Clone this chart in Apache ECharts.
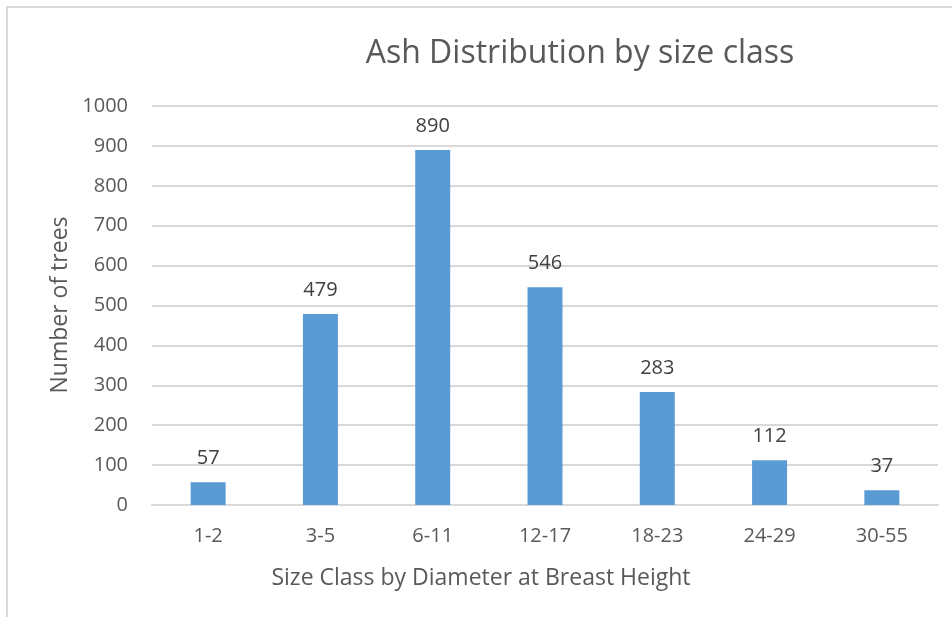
<!DOCTYPE html>
<html><head><meta charset="utf-8">
<script src="https://cdn.jsdelivr.net/npm/echarts@6/dist/echarts.min.js"></script>
<style>html,body{margin:0;padding:0;background:#fff}#c{width:952px;height:617px}</style>
</head><body><div id="c"></div>
<script>
const categories = ['1-2','3-5','6-11','12-17','18-23','24-29','30-55'];
const values = [57,479,890,546,283,112,37];
const chartTitle = 'Ash Distribution by size class';
const xName = 'Size Class by Diameter at Breast Height';
const yName = 'Number of trees';
const font = '"Open Sans", "Liberation Sans", sans-serif';
const chart = echarts.init(document.getElementById('c'));
chart.setOption({
  animation: false,
  backgroundColor: '#fff',
  title: { text: chartTitle, left: 575, top: 33, textAlign: 'center',
    textStyle: { fontFamily: font, fontSize: 32, fontWeight: 'normal', color: '#595959' } },
  grid: { left: 152, right: 14, top: 106, bottom: 112, containLabel: false },
  xAxis: { type: 'category', data: categories,
    axisLine: { lineStyle: { color: '#d9d9d9', width: 2 } }, axisTick: { show: false },
    axisLabel: { color: '#595959', fontSize: 20, fontFamily: font, margin: 21 } },
  yAxis: { type: 'value', min: 0, max: 1000, interval: 100,
    axisLine: { show: false }, axisTick: { show: false },
    splitLine: { lineStyle: { color: '#d9d9d9', width: 2 } },
    axisLabel: { color: '#595959', fontSize: 20, fontFamily: font, margin: 24, formatter: v => String(v) } },
  series: [{ type: 'bar', data: values, barWidth: 35,
    itemStyle: { color: '#5b9bd5' },
    label: { show: true, position: 'top', distance: 14, color: '#404040', fontSize: 20, fontFamily: font } }],
  graphic: [
    { type: 'rect', shape: { x: 7, y: 7, width: 2000, height: 2000 }, style: { fill: 'none', stroke: '#d9d9d9', lineWidth: 2 }, silent: true },
    { type: 'text', x: 481, y: 578, style: { text: xName, fill: '#595959', font: '23px ' + font, textAlign: 'center', textVerticalAlign: 'middle' } },
    { type: 'text', x: 60, y: 305, rotation: Math.PI/2, style: { text: yName, fill: '#595959', font: '23px ' + font, textAlign: 'center', textVerticalAlign: 'middle' } }
  ]
});
</script></body></html>
